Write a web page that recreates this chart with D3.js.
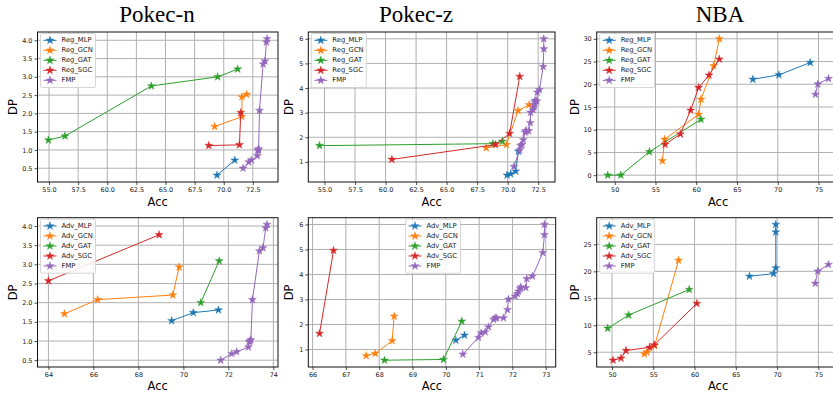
<!DOCTYPE html>
<html>
<head>
<meta charset="utf-8">
<script src="https://cdn.jsdelivr.net/npm/d3@7"></script>
<style>
  body { margin: 0; background: #fff; }
  svg { display: block; }
</style>
</head>
<body>
<svg id="chart" width="833" height="394"></svg>
<script>
// ---- data (Acc, DP) ----
const titles = ["Pokec-n", "Pokec-z", "NBA"];
const regNames = ["Reg_MLP", "Reg_GCN", "Reg_GAT", "Reg_SGC", "FMP"];
const advNames = ["Adv_MLP", "Adv_GCN", "Adv_GAT", "Adv_SGC", "FMP"];

// Pokec-n
const pnFMP = [[71.66,0.50],[72.15,0.67],[72.37,0.72],[72.89,0.84],[72.92,0.98],[72.96,1.00],[73.0,1.03],
               [73.07,2.08],[73.38,3.35],[73.54,3.43],[73.66,3.95],[73.72,4.04]];
const pnRegMLP = [[69.42,0.31],[70.95,0.72]];
const pnRegGCN = [[69.22,1.64],[71.56,1.91],[71.56,2.45],[71.97,2.52]];
const pnRegGAT = [[54.95,1.27],[56.37,1.38],[63.79,2.75],[69.48,3.00],[71.2,3.21]];
const pnRegSGC = [[68.71,1.12],[71.35,1.14],[71.46,2.02]];
const pnAdvMLP = [[69.48,1.53],[70.44,1.74],[71.56,1.81]];
const pnAdvGCN = [[64.71,1.71],[66.19,2.08],[69.53,2.20],[69.81,2.93]];
const pnAdvGAT = [[70.77,2.00],[71.59,3.09]];
const pnAdvSGC = [[64.0,2.57],[68.92,3.77]];

// Pokec-z
const pzFMP = [[70.51,0.81],[70.98,1.48],[71.06,1.66],[71.18,1.70],[71.28,1.90],[71.43,2.20],[71.48,2.26],
               [71.53,2.26],[71.73,2.26],[71.85,2.59],[71.88,3.01],[72.08,3.13],[72.15,3.23],[72.18,3.33],
               [72.23,3.43],[72.25,3.50],[72.40,3.47],[72.43,3.83],[72.60,3.93],[72.91,4.87],[72.96,5.59],[72.96,6.00]];
const pzRegMLP = [[69.95,0.46],[70.25,0.51],[70.66,0.62],[70.88,1.43]];
const pzRegGCN = [[68.24,1.57],[69.9,1.70],[70.85,3.08],[71.76,3.32]];
const pzRegGAT = [[54.59,1.66],[68.8,1.74],[69.56,1.84]];
const pzRegSGC = [[60.52,1.10],[69.0,1.70],[70.16,2.15],[70.99,4.47]];
const pzAdvMLP = [[70.3,1.37],[70.56,1.57]];
const pzAdvGCN = [[67.61,0.75],[67.88,0.84],[68.39,1.35],[68.45,2.33]];
const pzAdvGAT = [[68.16,0.57],[69.93,0.60],[70.48,2.13]];
const pzAdvSGC = [[66.21,1.64],[66.63,4.96]];

// NBA
const nbaFMP = [[74.62,17.76],[74.92,20.03],[76.22,21.25]];
const nbaRegMLP = [[66.95,21.1],[70.14,22.06],[73.98,24.78]];
const nbaRegGCN = [[55.84,3.16],[56.13,7.87],[60.29,13.38],[60.58,16.69],[62.13,24.04],[62.83,30.0]];
const nbaRegGAT = [[49.14,0.0],[50.74,0.0],[54.25,5.15],[60.58,12.28]];
const nbaRegSGC = [[56.17,6.76],[58.05,9.04],[59.31,14.26],[60.29,19.26],[61.56,21.99],[62.83,25.51]];
const nbaAdvMLP = [[66.65,19.09],[69.56,19.58],[69.84,20.63],[69.84,27.28],[69.84,28.69]];
const nbaAdvGCN = [[53.91,4.69],[54.23,5.0],[55.16,6.23],[58.06,22.05]];
const nbaAdvGAT = [[49.48,9.43],[52.02,11.89],[59.35,16.63]];
const nbaAdvSGC = [[50.12,3.52],[51.09,3.89],[51.69,5.31],[54.56,5.92],[55.12,6.35],[60.28,14.05]];

// tick labels
const xTicksPokecTop = [55, 57.5, 60, 62.5, 65, 67.5, 70, 72.5];
const yTicksPn = [0.5, 1.0, 1.5, 2.0, 2.5, 3.0, 3.5, 4.0];
const yTicksPz = [1, 2, 3, 4, 5, 6];
const xTicksNba = [50, 55, 60, 65, 70, 75];
const yTicksNbaTop = [0, 5, 10, 15, 20, 25, 30];
const yTicksNbaBottom = [5, 10, 15, 20, 25];
const xTicksPnBottom = [64, 66, 68, 70, 72, 74];
const xTicksPzBottom = [66, 67, 68, 69, 70, 71, 72, 73];

const colors = ["#1f77b4", "#ff7f0e", "#2ca02c", "#d62728", "#9467bd"];

// ---- layout ----
const panels = [
  { series: [pnRegMLP, pnRegGCN, pnRegGAT, pnRegSGC, pnFMP], names: regNames,
    xt: xTicksPokecTop, yt: yTicksPn, xf: ".1f", yf: ".1f",
    box: [37.5, 32, 278, 182], dpX: 13, accY: 202, legend: "left", title: 0, titleX: 157 },
  { series: [pzRegMLP, pzRegGCN, pzRegGAT, pzRegSGC, pzFMP], names: regNames,
    xt: xTicksPokecTop, yt: yTicksPz, xf: ".1f", yf: "d",
    box: [308.3, 32, 555, 182], dpX: 289, accY: 202, legend: "left", title: 1, titleX: 416 },
  { series: [nbaRegMLP, nbaRegGCN, nbaRegGAT, nbaRegSGC, nbaFMP], names: regNames,
    xt: xTicksNba, yt: yTicksNbaTop, xf: "d", yf: "d",
    box: [596.7, 32, 839.5, 182], dpX: 575, accY: 202, legend: "left", title: 2, titleX: 720 },
  { series: [pnAdvMLP, pnAdvGCN, pnAdvGAT, pnAdvSGC, pnFMP], names: advNames,
    xt: xTicksPnBottom, yt: yTicksPn, xf: "d", yf: ".1f",
    box: [37.5, 217.7, 278, 367], dpX: 13, accY: 386, legend: "left" },
  { series: [pzAdvMLP, pzAdvGCN, pzAdvGAT, pzAdvSGC, pzFMP], names: advNames,
    xt: xTicksPzBottom, yt: yTicksPz, xf: "d", yf: "d",
    box: [308.3, 217.7, 555.7, 367], dpX: 289, accY: 386, legend: "center" },
  { series: [nbaAdvMLP, nbaAdvGCN, nbaAdvGAT, nbaAdvSGC, nbaFMP], names: advNames,
    xt: xTicksNba, yt: yTicksNbaBottom, xf: "d", yf: "d",
    box: [596.7, 217.7, 839.5, 367], dpX: 575, accY: 386, legend: "left" }
];

const svg = d3.select("#chart");
const star = d3.symbol().type(d3.symbolStar).size(20);

// matplotlib-like 5% padding around the data
function padded(vals) {
  const [lo, hi] = d3.extent(vals);
  const m = (hi - lo) * 0.05;
  return [lo - m, hi + m];
}

titles.forEach((t, i) => {
  const p = panels.find(d => d.title === i);
  svg.append("text")
    .attr("x", p.titleX).attr("y", 22)
    .attr("text-anchor", "middle")
    .style("font-family", "'Liberation Serif', 'Times New Roman', serif")
    .style("font-size", "23px")
    .text(t);
});

panels.forEach((p, pi) => {
  const [L, T, R, B] = p.box;
  const all = p.series.flat();
  const x = d3.scaleLinear().domain(padded(all.map(d => d[0]))).range([L, R]);
  const y = d3.scaleLinear().domain(padded(all.map(d => d[1]))).range([B, T]);

  const clipId = "clip" + pi;
  svg.append("clipPath").attr("id", clipId)
    .append("rect").attr("x", L).attr("y", T).attr("width", R - L).attr("height", B - T);

  const g = svg.append("g");

  // grid
  g.append("g").selectAll("line").data(p.xt).join("line")
    .attr("x1", d => x(d)).attr("x2", d => x(d)).attr("y1", T).attr("y2", B)
    .attr("stroke", "#b0b0b0").attr("stroke-width", 1);
  g.append("g").selectAll("line").data(p.yt).join("line")
    .attr("x1", L).attr("x2", R).attr("y1", d => y(d)).attr("y2", d => y(d))
    .attr("stroke", "#b0b0b0").attr("stroke-width", 1);

  // series
  const plot = g.append("g").attr("clip-path", `url(#${clipId})`);
  const line = d3.line().x(d => x(d[0])).y(d => y(d[1]));
  p.series.forEach((s, k) => {
    plot.append("path").datum(s).attr("d", line)
      .attr("fill", "none").attr("stroke", colors[k]).attr("stroke-width", 1);
    plot.append("g").selectAll("path").data(s).join("path")
      .attr("d", star)
      .attr("transform", d => `translate(${x(d[0])},${y(d[1])})`)
      .attr("fill", colors[k]).attr("stroke", colors[k]).attr("stroke-width", 0.4);
  });

  // axes
  const ax = g.append("g").attr("transform", `translate(0,${B})`)
    .call(d3.axisBottom(x).tickValues(p.xt).tickFormat(d3.format(p.xf)).tickSize(3).tickPadding(2));
  const ay = g.append("g").attr("transform", `translate(${L},0)`)
    .call(d3.axisLeft(y).tickValues(p.yt).tickFormat(d3.format(p.yf)).tickSize(3).tickPadding(2));
  [ax, ay].forEach(a => {
    a.select(".domain").remove();
    a.selectAll("text").style("font-family", "'DejaVu Sans', sans-serif").style("font-size", "6.5px").attr("fill", "#222");
    a.selectAll("line").attr("stroke", "#222").attr("stroke-width", 0.8);
  });

  g.append("rect").attr("x", L).attr("y", T).attr("width", R - L).attr("height", B - T)
    .attr("fill", "none").attr("stroke", "#111").attr("stroke-width", 1);

  // axis labels
  g.append("text").attr("x", (L + R) / 2).attr("y", p.accY)
    .attr("text-anchor", "middle").attr("dominant-baseline", "middle")
    .style("font-family", "'DejaVu Sans', sans-serif").style("font-size", "11.5px")
    .text("Acc");
  g.append("text").attr("transform", `translate(${p.dpX},${(T + B) / 2}) rotate(-90)`)
    .attr("text-anchor", "middle").attr("dominant-baseline", "middle")
    .style("font-family", "'DejaVu Sans', sans-serif").style("font-size", "11.5px")
    .text("DP");

  // legend
  const lw = 55, lh = 54;
  const lx = p.legend === "center" ? (L + R) / 2 - lw / 2 + 1 : L + 3;
  const ly = T + 1.5;
  const lg = g.append("g").attr("transform", `translate(${lx},${ly})`);
  lg.append("rect").attr("width", lw).attr("height", lh).attr("rx", 1.5)
    .attr("fill", "#fff").attr("fill-opacity", 0.85).attr("stroke", "#ccc").attr("stroke-width", 0.8);
  p.names.forEach((n, k) => {
    const yy = 6.8 + k * 10;
    lg.append("line").attr("x1", 3).attr("x2", 16).attr("y1", yy).attr("y2", yy)
      .attr("stroke", colors[k]).attr("stroke-width", 1);
    lg.append("path").attr("d", star).attr("transform", `translate(9.5,${yy})`)
      .attr("fill", colors[k]).attr("stroke", colors[k]).attr("stroke-width", 0.4);
    lg.append("text").attr("x", 21).attr("y", yy).attr("dominant-baseline", "middle")
      .style("font-family", "'DejaVu Sans', sans-serif").style("font-size", "6.8px").attr("fill", "#222")
      .text(n);
  });
});
</script>
</body>
</html>
